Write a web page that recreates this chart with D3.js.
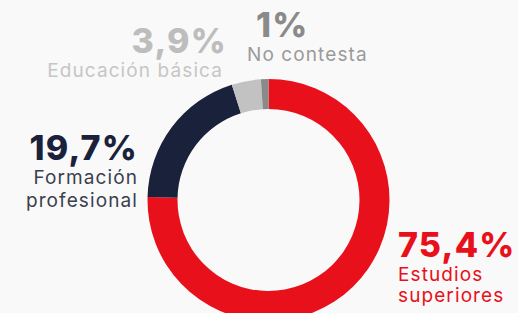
<!DOCTYPE html>
<html><head><meta charset="utf-8">
<script src="https://cdn.jsdelivr.net/npm/d3@7"></script>
<style>html,body{margin:0;padding:0;background:#f9f9f9;overflow:hidden}</style>
</head><body><svg id="c" width="518" height="313"></svg>
<script>
const categories = ["Estudios superiores", "Formación profesional", "Educación básica", "No contesta"];
const values = [75.4, 19.7, 3.9, 1];
const valueLabels = ["75,4%", "19,7%", "3,9%", "1%"];
const colors = ["#e8101a", "#19223a", "#c2c2c2", "#8a8a8a"];

const svg = d3.select("#c");
const cx = 268.5, cy = 200, rOuter = 121, rInner = 91;
const g = svg.append("g").attr("transform", `translate(${cx},${cy})`);
const pie = d3.pie().sort(null).value(d => d)(values);
const arc = d3.arc().innerRadius(rInner).outerRadius(rOuter);
g.selectAll("path").data(pie).enter().append("path")
  .attr("d", arc).attr("fill", (d, i) => colors[i]);

const font = "Inter, 'DejaVu Sans', sans-serif";
function label(x, xBig, y, anchor, big, lines, bigColor, smallColor, lh) {
  const t = svg.append("g").attr("font-family", font);
  t.append("text").attr("x", xBig).attr("y", y).attr("text-anchor", anchor)
    .attr("font-size", 34).attr("font-weight", 800).attr("letter-spacing", 1.2)
    .attr("fill", bigColor).text(big);
  lines.forEach((l, k) => {
    t.append("text").attr("x", x).attr("y", y + 24 + k * lh).attr("text-anchor", anchor)
      .attr("font-size", 19).attr("letter-spacing", 1.1).attr("fill", smallColor).text(l);
  });
}
label(398, 398, 257, "start", valueLabels[0], ["Estudios", "superiores"], "#e8101a", "#e8101a", 21);
label(138, 138, 160, "end", valueLabels[1], ["Formación", "profesional"], "#19223a", "#3a3f4f", 23);
label(223, 227, 53, "end", valueLabels[2], ["Educación básica"], "#bdbdbd", "#c6c6c6", 22);
label(247, 256, 37, "start", valueLabels[3], ["No contesta"], "#8a8a8a", "#9a9a9a", 22);
</script></body></html>
